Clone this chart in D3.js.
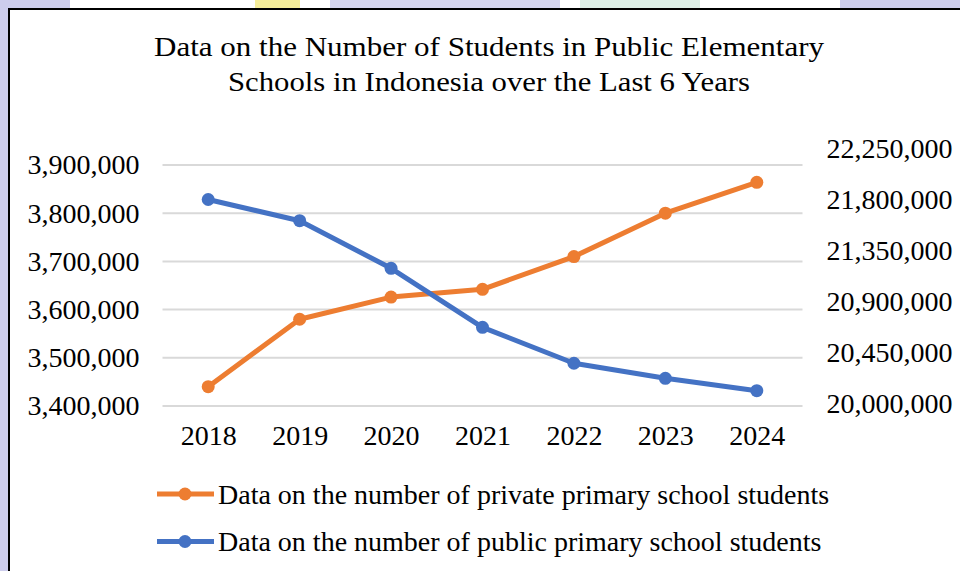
<!DOCTYPE html>
<html>
<head>
<meta charset="utf-8">
<script src="https://cdn.jsdelivr.net/npm/d3@7"></script>
<style>
  body { margin: 0; background: #ffffff; }
  svg { display: block; }
</style>
</head>
<body>
<svg id="chart" width="960" height="571"></svg>
<script>
// Data
var years = ['2018', '2019', '2020', '2021', '2022', '2023', '2024'];
var privateStudents = [3440000, 3580000, 3626000, 3642000, 3710000, 3800000, 3864000];
var publicStudents = [21800000, 21613000, 21193000, 20672000, 20355000, 20222000, 20113000];
var leftTicks = [3400000, 3500000, 3600000, 3700000, 3800000, 3900000];
var rightTicks = [20000000, 20450000, 20900000, 21350000, 21800000, 22250000];
var titleLines = ['Data on the Number of Students in Public Elementary',
                  'Schools in Indonesia over the Last 6 Years'];
var seriesNames = ['Data on the number of private primary school students',
                   'Data on the number of public primary school students'];

var ORANGE = '#ed7d31';
var BLUE = '#4472c4';
var FONT = '"Liberation Serif", "Times New Roman", serif';

var svg = d3.select('#chart');

// Page background outside the chart frame (watermark strips)
var bg = svg.append('g');
bg.append('rect').attr('x', 0).attr('y', 0).attr('width', 8).attr('height', 571).style('fill', '#cdcdec');
[[0, 70, '#cdcdec'], [255, 45, '#f6ee9a'], [330, 230, '#d6d6ef'], [580, 120, '#dcefe6'], [840, 120, '#cdcdec']]
    .forEach(function (s) {
        bg.append('rect').attr('x', s[0]).attr('y', 0).attr('width', s[1]).attr('height', 8).style('fill', s[2]);
    });

// Chart frame
svg.append('rect')
    .attr('x', 9).attr('y', 9)
    .attr('width', 980).attr('height', 600)
    .style('fill', '#ffffff')
    .style('stroke', '#000000')
    .style('stroke-width', 2);

// Scales
var x = d3.scalePoint().domain(years).range([162.5, 802.5]).padding(0.5);
var yLeft = d3.scaleLinear().domain([3400000, 3900000]).range([406, 165]);
var yRight = d3.scaleLinear().domain([20000000, 22250000]).range([403.5, 148.5]);
var fmt = d3.format(',');

// Gridlines
svg.append('g')
    .selectAll('line')
    .data(leftTicks)
    .enter()
    .append('line')
    .attr('x1', 162.5).attr('x2', 802.5)
    .attr('y1', function (d) { return yLeft(d); })
    .attr('y2', function (d) { return yLeft(d); })
    .style('stroke', '#d9d9d9')
    .style('stroke-width', 2);

// Left axis
var leftAxis = svg.append('g')
    .attr('transform', 'translate(162.5, 0)')
    .call(d3.axisLeft(yLeft).tickValues(leftTicks).tickFormat(fmt).tickSize(0).tickPadding(23));

// Right axis
var rightAxis = svg.append('g')
    .attr('transform', 'translate(802.5, 0)')
    .call(d3.axisRight(yRight).tickValues(rightTicks).tickFormat(fmt).tickSize(0).tickPadding(24));

// Bottom axis
var bottomAxis = svg.append('g')
    .attr('transform', 'translate(0, 406)')
    .call(d3.axisBottom(x).tickSize(0).tickPadding(19));

[leftAxis, rightAxis, bottomAxis].forEach(function (a) {
    a.select('.domain').remove();
    a.selectAll('text')
        .style('font-family', FONT)
        .style('font-size', '28px')
        .style('fill', '#000000');
});

// Lines and markers
var series = [
    { values: privateStudents, scale: yLeft, color: ORANGE },
    { values: publicStudents, scale: yRight, color: BLUE }
];

series.forEach(function (s) {
    var line = d3.line()
        .x(function (d, i) { return x(years[i]); })
        .y(function (d) { return s.scale(d); });
    svg.append('path')
        .datum(s.values)
        .attr('d', line)
        .style('fill', 'none')
        .style('stroke', s.color)
        .style('stroke-width', 5)
        .style('stroke-linejoin', 'round');
    svg.append('g')
        .selectAll('circle')
        .data(s.values)
        .enter()
        .append('circle')
        .attr('cx', function (d, i) { return x(years[i]); })
        .attr('cy', function (d) { return s.scale(d); })
        .attr('r', 6.5)
        .style('fill', s.color);
});

// Title
svg.append('g')
    .selectAll('text')
    .data(titleLines)
    .enter()
    .append('text')
    .attr('x', 489)
    .attr('y', function (d, i) { return 56 + i * 35; })
    .attr('text-anchor', 'middle')
    .attr('textLength', function (d, i) { return i === 0 ? 670 : 522; })
    .attr('lengthAdjust', 'spacingAndGlyphs')
    .style('font-family', FONT)
    .style('font-size', '27px')
    .style('fill', '#000000')
    .text(function (d) { return d; });

// Legend
var legend = svg.append('g')
    .selectAll('g')
    .data(seriesNames)
    .enter()
    .append('g')
    .attr('transform', function (d, i) { return 'translate(157, ' + (494 + i * 47.5) + ')'; });

legend.append('line')
    .attr('x1', 0).attr('x2', 57)
    .attr('y1', 0).attr('y2', 0)
    .style('stroke', function (d, i) { return i === 0 ? ORANGE : BLUE; })
    .style('stroke-width', 5);

legend.append('circle')
    .attr('cx', 28).attr('cy', 0).attr('r', 6.5)
    .style('fill', function (d, i) { return i === 0 ? ORANGE : BLUE; });

legend.append('text')
    .attr('x', 61)
    .attr('y', 0)
    .attr('dy', '0.34em')
    .style('font-family', FONT)
    .style('font-size', '28px')
    .style('fill', '#000000')
    .text(function (d) { return d; });
</script>
</body>
</html>
